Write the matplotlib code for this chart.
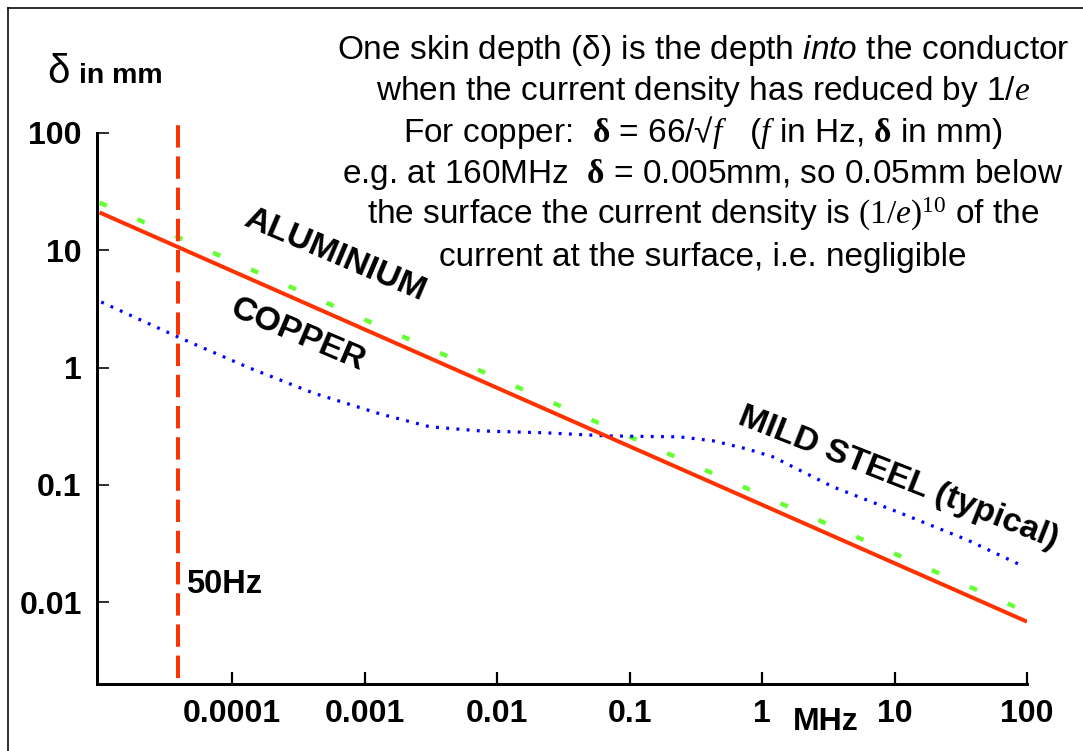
import matplotlib
matplotlib.use('Agg')
import matplotlib.pyplot as plt
from matplotlib.lines import Line2D

# ---------------- data ----------------
freq_cu = [1.0e-5, 100.0]          # MHz
depth_cu = [21.0, 0.0068]          # mm
freq_al = [1.0e-5, 100.0]
depth_al = [25.5, 0.0082]
freq_fe = [1.03e-5, 3.91e-5, 1.30e-4, 4.09e-4, 1.31e-3, 3.12e-3, 7.44e-3,
           0.0238, 0.0676, 0.2405, 0.427, 0.770, 1.21, 3.43, 11.0, 35.3, 85.5]
depth_fe = [3.62, 1.82, 1.01, 0.607, 0.402, 0.312, 0.288, 0.277, 0.261,
            0.256, 0.237, 0.202, 0.173, 0.096, 0.0576, 0.0339, 0.0212]
mains_freq = 3.9e-5                # MHz, position of the "50Hz" marker
mains_span = [0.00226, 134.0]

x_ticks = [1e-4, 1e-3, 1e-2, 0.1, 1, 10, 100]
x_tick_labels = ['0.0001', '0.001', '0.01', '0.1', '1', '10', '100']
y_ticks = [100, 10, 1, 0.1, 0.01]
y_tick_labels = ['100', '10', '1', '0.1', '0.01']

note_lines = [
    r"One skin depth (δ) is the depth $\mathsf{into}$ the conductor",
    r"when the current density has reduced by 1/$\mathit{e}$",
    r"For copper:  $\mathbf{δ}$ = 66/√$\mathit{f}$   ($\mathit{f}$ in Hz, $\mathbf{δ}$ in mm)",
    r"e.g. at 160MHz  $\mathbf{δ}$ = 0.005mm, so 0.05mm below",
    r"the surface the current density is $(1/\mathit{e})^{10}$ of the",
    r"current at the surface, i.e. negligible",
]

# ---------------- styling ----------------
plt.rcParams['font.family'] = ['Liberation Sans', 'DejaVu Sans']
plt.rcParams['mathtext.fontset'] = 'custom'
plt.rcParams['mathtext.rm'] = 'Liberation Serif'
plt.rcParams['mathtext.it'] = 'Liberation Serif:italic'
plt.rcParams['mathtext.bf'] = 'Liberation Serif:bold'
plt.rcParams['mathtext.sf'] = 'Liberation Sans:italic'

W, H = 1083, 751
fig = plt.figure(figsize=(W / 100, H / 100), dpi=100)
px = 72 / 100  # points per pixel

ax_left, ax_right, ax_bottom, ax_top = 97, 1027, 684, 15.7
ax = fig.add_axes([ax_left / W, (H - ax_bottom) / H,
                   (ax_right - ax_left) / W, (ax_bottom - ax_top) / H])
ax.set_xscale('log')
ax.set_yscale('log')
ax.set_xlim(9.57e-6, 100)
ax.set_ylim(0.002, 1000)
ax.patch.set_alpha(0)

red = '#FF3300'
green = '#66FF33'
blue = '#0000FF'

ax.plot(freq_cu, depth_cu, color=red, lw=4 * px, solid_capstyle='butt', zorder=3)
ax.plot(freq_al, depth_al, color=green, lw=4.4 * px, dashes=(1.8, 7.6),
        dash_capstyle='butt', zorder=2)
ax.plot(freq_fe, depth_fe, color=blue, lw=3.2 * px, dashes=(0.9, 2.3),
        dash_capstyle='butt', zorder=2)
ax.plot([mains_freq, mains_freq], mains_span, color=red, lw=4 * px,
        dashes=(5.6, 2.2), dash_capstyle='butt', zorder=3, clip_on=False)

# axes cosmetics
for s in ('top', 'right'):
    ax.spines[s].set_visible(False)
for s in ('left', 'bottom'):
    ax.spines[s].set_linewidth(3 * px)
    ax.spines[s].set_color('black')
ax.spines['left'].set_bounds(0.002, 100)
ax.minorticks_off()
ax.set_xticks(x_ticks)
ax.set_xticklabels(x_tick_labels)
ax.set_yticks(y_ticks)
ax.set_yticklabels(y_tick_labels)
ax.tick_params(axis='x', direction='in', length=12 * px, width=2.2 * px,
               pad=11, labelsize=23)
ax.tick_params(axis='y', direction='in', length=12 * px, width=1.6 * px,
               pad=11, labelsize=23)
for lab in ax.get_xticklabels() + ax.get_yticklabels():
    lab.set_fontweight('bold')

# curve labels
lab_kw = dict(fontsize=24.5, fontweight='bold', ha='center', va='center',
              rotation_mode='anchor')
ax.text(5.99e-4, 9.12, 'ALUMINIUM', rotation=-23, **lab_kw)
ax.text(3.15e-4, 1.90, 'COPPER', rotation=-23, **lab_kw)
ax.text(10.6, 0.1146, 'MILD STEEL (typical)', rotation=-21.5, **lab_kw)
ax.annotate('50Hz', xy=(mains_freq, 0.014), xytext=(8 * px, 0),
            textcoords='offset points', ha='left', va='center',
            fontsize=23.5, fontweight='bold')

# axis captions
fig.text(47 / W, (H - 83) / H, 'δ', fontsize=29, ha='left', va='baseline')
fig.text(79 / W, (H - 83) / H, 'in mm', fontsize=20.5, fontweight='bold',
         ha='left', va='baseline')
fig.text(826 / W, (H - 722) / H, 'MHz', fontsize=23, fontweight='bold',
         ha='center', va='center')

# explanatory note
baselines = [59, 100, 142, 183, 224, 266]
for line, yb in zip(note_lines, baselines):
    fig.text(703 / W, (H - yb) / H, line, fontsize=24, ha='center',
             va='baseline')

# outer frame (left and top edges visible)
fig.add_artist(Line2D([8 / W, 8 / W], [-0.01, (H - 8) / H], color='black',
                      lw=1.6 * px, transform=fig.transFigure))
fig.add_artist(Line2D([8 / W, 1.01], [(H - 8) / H, (H - 8) / H], color='black',
                      lw=1.6 * px, transform=fig.transFigure))

fig.savefig('out.png', dpi=100)
